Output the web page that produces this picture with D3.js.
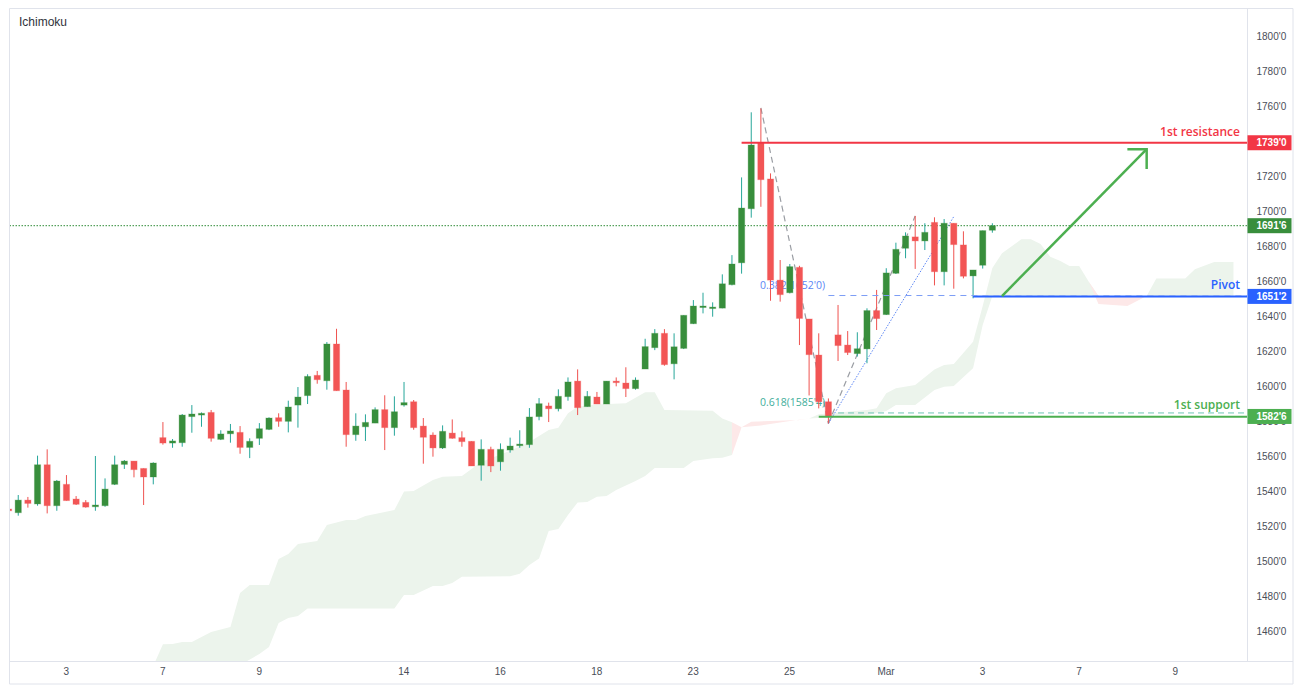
<!DOCTYPE html>
<html>
<head>
<meta charset="utf-8">
<script src="https://d3js.org/d3.v7.min.js"></script>
<style>
  html, body { margin: 0; padding: 0; background: #fff; overflow: hidden; }
  text { font-family: "Liberation Sans", Arial, sans-serif; }
  .axis path, .axis line { display: none; }
  .axis text { font-size: 10px; fill: #4a4e58; }
  .note { font-family: "Open Sans", sans-serif; font-size: 12px; font-weight: 600; }
  .fib { font-family: "Open Sans", sans-serif; font-size: 10.5px; }
</style>
</head>
<body>
<svg id="chart" width="1301" height="692"></svg>
<script>
// candles, one entry per bar
var opens = [1529.7,1527.6,1534.8,1532.6,1555,1531.6,1543.8,1535.4,1533.5,1531,1531.6,1543.8,1555.2,1557.1,1552.9,1548,1570.5,1567.4,1567.6,1582.5,1583.4,1584.9,1569.5,1572.7,1573.5,1564.9,1570.1,1575.2,1581.9,1579.8,1589.1,1594.5,1606.1,1603,1624,1597.7,1572.2,1576.7,1578.8,1586.5,1576.2,1589.1,1591,1577.1,1572,1564.6,1573.1,1570.5,1568.4,1554.7,1563.8,1556.7,1563.4,1565.9,1566.5,1582.5,1588.6,1587,1593.9,1602.8,1588.2,1593.7,1589.7,1602.8,1601.7,1598.5,1609.7,1621.9,1630.1,1612.7,1621.5,1635.6,1645.1,1644.7,1644.5,1657.9,1670.4,1701.3,1739,1718.3,1660.5,1653.3,1667.8,1638.3,1617.7,1591,1629.2,1623.4,1618.5,1621.2,1643.1,1640.8,1664.4,1678.7,1685.2,1682.9,1693.5,1665.3,1693,1680.6,1662.9,1669,1689];
var highs = [1529.7,1537.7,1536.6,1560.2,1563.8,1546.3,1549.1,1537.1,1534.8,1560,1547.2,1560.2,1557.7,1557.1,1552.9,1556.4,1579.4,1569.7,1584,1589.1,1584.9,1586.3,1574.7,1578.3,1577.1,1570.1,1578.8,1582.1,1584.4,1591.6,1599.4,1606.7,1608.6,1625.1,1632.7,1602.3,1584.4,1583.8,1587.8,1594.7,1594.1,1602.3,1592,1581.7,1573.5,1577.5,1580.9,1574.1,1568.4,1569.5,1565.3,1567.2,1570.5,1574.7,1587.4,1593.1,1590.5,1598.1,1604.9,1609.5,1597.1,1596.6,1602.8,1604.9,1610.7,1604.9,1627,1632.5,1632.5,1630.1,1640.4,1649.1,1653.3,1647.8,1663.8,1674.8,1719.2,1756.4,1758.6,1721.5,1672,1669.7,1668.7,1638.3,1630.1,1592.9,1646.3,1631.4,1630.7,1644.4,1654.9,1667.3,1681.9,1687.8,1697.2,1693,1696.4,1695.4,1693,1688.4,1666.3,1688.8,1693];
var lows = [1528.7,1525.9,1530.5,1531.6,1527.2,1528.7,1534.5,1532,1530.5,1528.7,1531,1543.4,1552.6,1547.8,1532,1543.8,1566.5,1564.7,1565.3,1573.3,1576.7,1568.2,1569.1,1567.6,1561.3,1558.8,1566.3,1574.8,1576.7,1573.5,1576.2,1589.7,1601.3,1597.9,1597.3,1565.3,1568.7,1568.6,1578.8,1563.4,1571.6,1588.2,1575,1555.6,1559.6,1564,1569.9,1565.3,1554.3,1545.9,1550.8,1551.6,1561.9,1564.7,1564.7,1580.4,1579.4,1585.5,1591.6,1583.4,1588.2,1589.7,1589.7,1599.8,1593.7,1597.9,1609.7,1620.5,1611.6,1603.8,1621.1,1635.4,1641.5,1639.6,1644.4,1657.5,1664.2,1696.2,1702.4,1648.7,1648.2,1652.9,1623.4,1594.6,1587.2,1578.6,1614.3,1617.7,1616.8,1613,1632,1640.6,1664,1673,1666.9,1677.7,1657.5,1657.5,1655.6,1661.5,1650.1,1667.1,1687.6];
var closes = [1528.7,1534.8,1532.9,1555,1531.6,1545.7,1534.5,1532.4,1530.8,1532,1541.1,1555,1557.1,1552.2,1548,1556,1567.4,1568.6,1583.4,1584,1584.4,1570.1,1572.6,1574.3,1564.9,1568.4,1575.6,1581.7,1579.8,1588,1593.7,1605.5,1603.6,1624,1597.3,1572.2,1577.1,1579.2,1586.5,1576.2,1585.3,1590.5,1576.2,1570.7,1564.6,1574.1,1570.1,1568.2,1554.3,1563.8,1554.3,1563.8,1565.7,1566.8,1582.3,1589.9,1587,1594.1,1602.3,1587.6,1594.1,1589.7,1602.8,1601.9,1598.5,1603.4,1622.5,1630.1,1612.2,1622.4,1640.4,1645.7,1645.7,1645.1,1658.4,1669.7,1701.7,1737.7,1717.9,1660.5,1652.2,1668.2,1638.6,1617.9,1591,1582.4,1623.1,1619.1,1621.3,1643.1,1638.5,1664.6,1678.1,1685.7,1682.9,1687.8,1665.3,1693,1680.8,1662.7,1666.3,1688.8,1691.6];

// ichimoku cloud outlines as [bar, price]
var cloudUpper = [[15,1440],[16,1452.4],[17,1452.6],[18,1453.7],[19,1453.7],[21,1459.4],[23,1462.3],[24,1481.7],[25,1486.3],[27,1486.3],[28,1501.1],[29,1504],[30,1509.7],[32,1511.4],[33,1520.6],[35,1523.4],[36,1523.4],[37,1525.7],[40,1529.1],[41,1539.7],[42,1540],[44,1546.3],[45,1548.2],[47,1548.6],[48,1552.6],[49,1556.6],[52,1563],[54,1568],[56,1574.9],[57,1576.2],[58,1584.4],[59,1588.2],[61,1589.5],[64,1590.1],[66,1596.4],[67,1596.4],[68,1586.3],[73,1585.9],[74,1581.5],[75,1579.3]];
var cloudLower = [[24,1440.5],[26,1446.9],[27,1450.9],[28,1464.6],[29,1467.4],[30,1468.6],[31,1472.9],[40,1472.9],[41,1480.6],[42,1480.6],[44,1485.7],[45,1485.7],[46,1487.4],[47,1491],[52,1491.3],[53,1492.7],[54,1497.7],[55,1501.5],[56,1517.1],[57,1518.3],[58,1526.3],[59,1533.5],[60,1533.7],[61,1536.7],[62,1537.1],[63,1540.6],[65,1545.7],[66,1548.6],[67,1553.1],[70,1553.1],[71,1557.1],[73,1558.7],[74,1559],[75,1560.6]];
var cloudUpper2 = [[83,1581.5],[84,1583.8],[89,1586.3],[90,1587.3],[91,1595.8],[92,1598.7],[94,1600.6],[96,1609.5],[97,1612],[98,1612.6],[100,1625.3],[101,1645.7],[102,1667.4],[103,1675.8],[105,1683.8],[106,1683.8],[107,1681.1],[108,1673.9],[109,1671.6],[110,1668.6],[111,1668.6],[112,1659.6],[113,1651.4]];
var cloudLower2 = [[83,1581.5],[89,1583.4],[91,1585.7],[92,1589.1],[94,1589.1],[96,1597.7],[97,1599.6],[98,1600],[100,1610.1],[101,1634.9],[102,1651.4],[113,1651.4]];
var cloudUpper3 = [[118,1651.4],[119,1661.5],[122,1661.5],[123,1666.7],[125,1670.9],[127,1670.9]];
var cloudLower3 = [[118,1651.4],[127,1651.4]];
var redCloud1 = [[75,1579.3],[76,1576.4],[75,1560.6]];
var redCloud2 = [[76,1576.4],[77,1579.6],[79,1580],[82,1580.6],[83,1581.5],[81,1580],[78,1577.4]];
var redCloud3 = [[112,1659.6],[113,1646.9],[116,1645.7],[118,1651.4],[113,1651.4]];

// axis labels
var priceTicks = [1800,1780,1760,1740,1720,1700,1680,1660,1640,1620,1600,1580,1560,1540,1520,1500,1480,1460];
var dateBars = [6,16,26,41,51,61,71,81,91,101,111,121];
var dateLabels = ["3","7","9","14","16","18","23","25","Mar","3","7","9"];

// levels and drawings
var resistance = 1739, pivot = 1651.2, support = 1582.4, lastPrice = 1691.6;
var fibHigh = 1651.7, fibLow = 1584.6;
var fibDown = [[78,1758.9],[85,1578.6]];
var fibUp = [[85,1578.6],[94,1697.2]];
var blueTrend = [[85,1578.6],[98,1696.8]];
var arrowShaft = [[103,1651.4],[118,1735.3]];
var arrowHead = [[116,1735.3],[118,1735.3],[118,1724]];
var priceBoxes = [
  {value: 1739, label: "1739'0", color: "#f23645"},
  {value: 1691.6, label: "1691'6", color: "#388e3c"},
  {value: 1651.2, label: "1651'2", color: "#2962ff"},
  {value: 1582.6, label: "1582'6", color: "#4caf50"}
];

var plotLeft = 9.5, plotRight = 1247.5, plotTop = 8.5, plotBottom = 661.5, outerRight = 1293, outerBottom = 684;

var x = d3.scaleLinear().domain([0, 121]).range([8.6, 1175.6]);
var y = d3.scaleLinear().domain([1460, 1800]).range([631, 36]);

var svg = d3.select("#chart");

svg.append("clipPath").attr("id", "plot")
  .append("rect")
  .attr("x", plotLeft).attr("y", plotTop)
  .attr("width", plotRight - plotLeft).attr("height", plotBottom - plotTop);

var plot = svg.append("g").attr("clip-path", "url(#plot)");

var line = d3.line().x(function(d) { return x(d[0]); }).y(function(d) { return y(d[1]); });

// cloud
function cloudShape(upper, lower) {
  return line(upper.concat(lower.slice().reverse())) + "Z";
}
[[cloudUpper, cloudLower], [cloudUpper2, cloudLower2], [cloudUpper3, cloudLower3]].forEach(function(c) {
  plot.append("path").attr("d", cloudShape(c[0], c[1])).attr("fill", "#ecf4ec");
});
[redCloud1, redCloud2, redCloud3].forEach(function(c) {
  plot.append("path").attr("d", line(c) + "Z").attr("fill", "#fde8e8");
});

// fib drawings sit under the candles
plot.append("path").attr("d", line(fibDown)).attr("fill", "none")
  .attr("stroke", "#9a9da3").attr("stroke-width", 1.2).attr("stroke-dasharray", "6 4");
plot.append("path").attr("d", line(fibUp)).attr("fill", "none")
  .attr("stroke", "#9a9da3").attr("stroke-width", 1.2).attr("stroke-dasharray", "6 4");
plot.append("path").attr("d", line(blueTrend)).attr("fill", "none")
  .attr("stroke", "#5c86f5").attr("stroke-width", 1).attr("stroke-dasharray", "1.5 1.5");

plot.append("text").attr("class", "fib").attr("x", x(78) - 1).attr("y", y(1655.3))
  .attr("fill", "#5c86f5").text("0.382(1652'0)");
plot.append("text").attr("class", "fib").attr("x", x(78) - 1).attr("y", y(1588.4))
  .attr("fill", "#3fae9b").text("0.618(1585'4)");

// last price line
plot.append("line")
  .attr("x1", plotLeft).attr("x2", plotRight).attr("y1", y(lastPrice)).attr("y2", y(lastPrice))
  .attr("stroke", "#2e8b36").attr("stroke-width", 1).attr("stroke-dasharray", "1.5 1.5");

// candles
var bars = d3.range(opens.length);
var isUp = function(i) { return closes[i] >= opens[i]; };

plot.append("g").selectAll("line").data(bars).join("line")
  .attr("x1", function(i) { return x(i); })
  .attr("x2", function(i) { return x(i); })
  .attr("y1", function(i) { return y(highs[i]); })
  .attr("y2", function(i) { return y(lows[i]); })
  .attr("stroke", function(i) { return isUp(i) ? "#26a69a" : "#ef5350"; })
  .attr("stroke-width", 1);

plot.append("g").selectAll("rect").data(bars).join("rect")
  .attr("x", function(i) { return x(i) - 3.1; })
  .attr("width", 6.2)
  .attr("y", function(i) { return y(Math.max(opens[i], closes[i])); })
  .attr("height", function(i) { return Math.max(1.5, Math.abs(y(opens[i]) - y(closes[i]))); })
  .attr("fill", function(i) { return isUp(i) ? "#388e3c" : "#f25555"; })
  .attr("stroke", function(i) { return isUp(i) ? "#388e3c" : "#f25555"; })
  .attr("stroke-opacity", 0.3)
  .attr("stroke-width", 1);

// level lines
plot.append("line")
  .attr("x1", x(76)).attr("x2", plotRight).attr("y1", y(resistance)).attr("y2", y(resistance))
  .attr("stroke", "#f23645").attr("stroke-width", 2);
plot.append("line")
  .attr("x1", x(84)).attr("x2", plotRight).attr("y1", y(support)).attr("y2", y(support))
  .attr("stroke", "#4caf50").attr("stroke-width", 2);
plot.append("line")
  .attr("x1", x(100)).attr("x2", plotRight).attr("y1", y(pivot)).attr("y2", y(pivot))
  .attr("stroke", "#2962ff").attr("stroke-width", 2);

// fib levels run over the level lines
plot.append("line")
  .attr("x1", x(85)).attr("x2", plotRight).attr("y1", y(fibHigh)).attr("y2", y(fibHigh))
  .attr("stroke", "#7c9df5").attr("stroke-width", 1).attr("stroke-dasharray", "6 5");
plot.append("line")
  .attr("x1", x(86)).attr("x2", plotRight).attr("y1", y(fibLow)).attr("y2", y(fibLow))
  .attr("stroke", "#6cc5b5").attr("stroke-width", 1).attr("stroke-dasharray", "6 4");

// arrow
plot.append("path").attr("d", line(arrowShaft)).attr("fill", "none")
  .attr("stroke", "#4caf50").attr("stroke-width", 2.5);
plot.append("path").attr("d", line(arrowHead)).attr("fill", "none")
  .attr("stroke", "#4caf50").attr("stroke-width", 2.5);

// level captions
var captions = [
  {text: "1st resistance", price: 1739, dy: -7, color: "#f23645"},
  {text: "Pivot", price: 1651.4, dy: -7, color: "#2962ff"},
  {text: "1st support", price: 1582.6, dy: -7, color: "#4caf50"}
];
svg.selectAll("text.caption").data(captions).join("text")
  .attr("class", "note caption")
  .attr("x", 1240)
  .attr("y", function(d) { return y(d.price) + d.dy; })
  .attr("text-anchor", "end")
  .attr("fill", function(d) { return d.color; })
  .text(function(d) { return d.text; });

svg.append("text").attr("x", 19).attr("y", 26).attr("font-size", 12).attr("fill", "#30333b").text("Ichimoku");

// frame
svg.append("path")
  .attr("d", d3.line()([[plotLeft, plotTop], [outerRight, plotTop], [outerRight, outerBottom], [plotLeft, outerBottom]]) + "Z")
  .attr("fill", "none").attr("stroke", "#e0e3eb");
svg.append("line").attr("x1", plotRight).attr("x2", plotRight).attr("y1", plotTop).attr("y2", plotBottom).attr("stroke", "#e0e3eb");
svg.append("line").attr("x1", plotLeft).attr("x2", outerRight).attr("y1", plotBottom).attr("y2", plotBottom).attr("stroke", "#e0e3eb");

// axes
svg.append("g").attr("class", "axis").attr("transform", "translate(" + (plotRight + 9) + ",0)")
  .call(d3.axisRight(y).tickValues(priceTicks).tickSize(0).tickPadding(0)
    .tickFormat(function(d) { return d + "'0"; }));

svg.append("g").attr("class", "axis").attr("transform", "translate(-0.7," + (plotBottom + 2) + ")")
  .call(d3.axisBottom(x).tickValues(dateBars).tickSize(0).tickPadding(4)
    .tickFormat(function(d, i) { return dateLabels[i]; }));

// price boxes on the axis
var boxes = svg.append("g").selectAll("g").data(priceBoxes).join("g")
  .attr("transform", function(d) { return "translate(" + plotRight + "," + y(d.value) + ")"; });
boxes.append("rect").attr("x", 0).attr("y", -7.5).attr("width", 44).attr("height", 15)
  .attr("fill", function(d) { return d.color; });
boxes.append("text").attr("x", 9).attr("dy", "0.35em").attr("font-size", 10).attr("font-weight", "bold")
  .attr("fill", "#fff").text(function(d) { return d.label; });
</script>
</body>
</html>
